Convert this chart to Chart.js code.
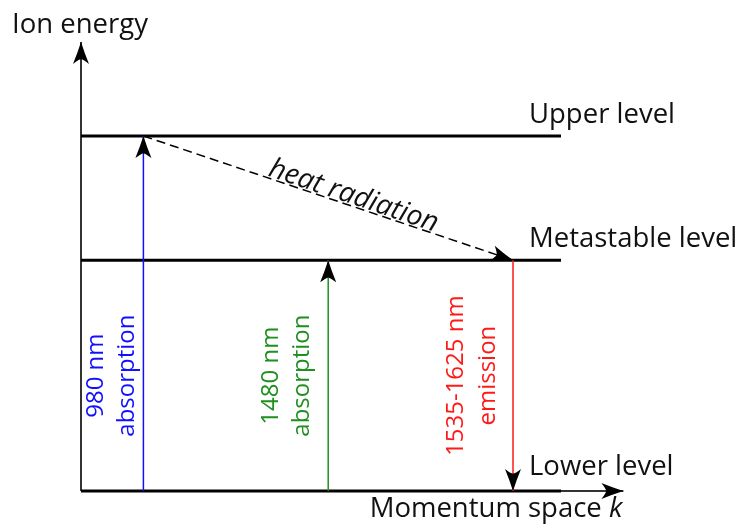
<!DOCTYPE html>
<html lang="en">
<head>
  <meta charset="UTF-8" />
  <title>Erbium energy levels</title>
  <script src="https://cdn.jsdelivr.net/npm/chart.js"></script>
  <style>
    body {
      margin: 0;
      background: #fff;
    }
    .wrap {
      width: 742px;
      height: 527px;
    }
  </style>
</head>
<body>
<div class="wrap"><canvas id="levels"></canvas></div>

<script>
  // energy levels (arbitrary units) and where the level lines stop along k
  const levelNames = ['Lower level', 'Metastable level', 'Upper level'];
  const levelEnergy = [0, 6.5, 10];
  const levelEnd = 10;

  // axis extents
  const kAxisMax = 11.3;
  const energyAxisMax = 12.65;

  // vertical transitions
  const transitionK = [1.3, 5.15, 9.0];
  const transitionFrom = [0, 0, 6.5];
  const transitionTo = [10, 6.5, 0];
  const transitionLabels = [['980 nm', 'absorption'], ['1480 nm', 'absorption'], ['1535-1625 nm', 'emission']];

  // non-radiative decay upper -> metastable
  const heatFrom = { x: 1.3, y: 10 };
  const heatTo = { x: 9.0, y: 6.5 };
  const heatLabel = 'heat radiation';

  // styling
  const transitionColors = ['#1010ff', '#1f8f1f', '#ff1a1a'];
  const labelShift = [[-40, -9], [-50, -19], [-50, -18]];
  const FONT = '"Open Sans", "DejaVu Sans", sans-serif';

  const datasets = [];

  // transitions first (lower index ends up on top)
  transitionK.forEach((k, i) => {
    datasets.push({
      data: [{ x: k, y: transitionFrom[i] }, { x: k, y: transitionTo[i] }],
      borderColor: transitionColors[i],
      borderWidth: 1.5,
      arrow: true
    });
  });

  datasets.push({
    data: [heatFrom, heatTo],
    borderColor: '#000',
    borderWidth: 1.5,
    borderDash: [9, 5],
    arrow: true
  });

  levelEnergy.forEach(e => {
    datasets.push({
      data: [{ x: 0, y: e }, { x: levelEnd, y: e }],
      borderColor: '#000',
      borderWidth: 3
    });
  });

  // the two axes
  datasets.push({
    data: [{ x: 0, y: 0 }, { x: kAxisMax, y: 0 }],
    borderColor: '#333',
    borderWidth: 2,
    arrow: true
  });
  datasets.push({
    data: [{ x: 0, y: 0 }, { x: 0, y: energyAxisMax }],
    borderColor: '#333',
    borderWidth: 2,
    arrow: true
  });

  // black arrow head with a shallow notch, tip at (0,0) pointing +x
  function drawHead(ctx, px, py, ang) {
    const L = 22, W = 16;
    ctx.save();
    ctx.translate(px, py);
    ctx.rotate(ang);
    ctx.beginPath();
    ctx.moveTo(0, 0);
    ctx.quadraticCurveTo(-L * 0.5, -W * 0.22, -L, -W / 2);
    ctx.quadraticCurveTo(-L * 0.8, -W * 0.15, -L * 0.78, 0);
    ctx.quadraticCurveTo(-L * 0.8, W * 0.15, -L, W / 2);
    ctx.quadraticCurveTo(-L * 0.5, W * 0.22, 0, 0);
    ctx.closePath();
    ctx.fillStyle = '#000';
    ctx.fill();
    ctx.restore();
  }

  const diagramPlugin = {
    id: 'diagram',
    afterDatasetsDraw(chart) {
      const ctx = chart.ctx;
      const sx = chart.scales.x, sy = chart.scales.y;

      chart.data.datasets.forEach(ds => {
        if (!ds.arrow) return;
        const a = ds.data[ds.data.length - 2], b = ds.data[ds.data.length - 1];
        const x1 = sx.getPixelForValue(a.x), y1 = sy.getPixelForValue(a.y);
        const x2 = sx.getPixelForValue(b.x), y2 = sy.getPixelForValue(b.y);
        drawHead(ctx, x2, y2, Math.atan2(y2 - y1, x2 - x1));
      });

      ctx.save();
      ctx.font = '27.5px ' + FONT;
      ctx.fillStyle = '#111';
      ctx.textBaseline = 'alphabetic';

      // level names
      ctx.textAlign = 'left';
      levelNames.forEach((name, i) => {
        const px = sx.getPixelForValue(levelEnd) - 32;
        const py = sy.getPixelForValue(levelEnergy[i]) - (i === 0 ? 16 : 13);
        ctx.fillText(name, px, py);
      });

      // axis titles
      const ox = sx.getPixelForValue(0), oy = sy.getPixelForValue(0);
      ctx.fillText('Ion energy', ox - 69, sy.getPixelForValue(energyAxisMax) - 9);
      const kx = sx.getPixelForValue(kAxisMax);
      ctx.textAlign = 'right';
      ctx.font = 'italic 27.5px ' + FONT;
      ctx.fillText('k', kx - 1, oy + 26);
      const kw = ctx.measureText('k').width;
      ctx.font = '27.5px ' + FONT;
      ctx.fillText('Momentum space ', kx - 1 - kw, oy + 26);

      // rotated transition labels
      ctx.font = '24px ' + FONT;
      ctx.textAlign = 'center';
      transitionK.forEach((k, i) => {
        const px = sx.getPixelForValue(k);
        const py = sy.getPixelForValue((levelEnergy[0] + levelEnergy[1]) / 2);
        ctx.save();
        ctx.translate(px, py);
        ctx.rotate(-Math.PI / 2);
        ctx.fillStyle = transitionColors[i];
        transitionLabels[i].forEach((line, j) => {
          ctx.fillText(line, 0, labelShift[i][j]);
        });
        ctx.restore();
      });

      // heat radiation label along the dashed line
      const hx1 = sx.getPixelForValue(heatFrom.x), hy1 = sy.getPixelForValue(heatFrom.y);
      const hx2 = sx.getPixelForValue(heatTo.x), hy2 = sy.getPixelForValue(heatTo.y);
      const t = 0.56;
      ctx.save();
      ctx.translate(hx1 + (hx2 - hx1) * t, hy1 + (hy2 - hy1) * t);
      ctx.rotate(Math.atan2(hy2 - hy1, hx2 - hx1));
      ctx.font = 'italic 28px ' + FONT;
      ctx.fillStyle = '#111';
      ctx.textAlign = 'center';
      ctx.fillText(heatLabel, 0, -2);
      ctx.restore();

      ctx.restore();
    }
  };

  new Chart(document.getElementById('levels'), {
    type: 'scatter',
    data: { datasets: datasets },
    options: {
      responsive: true,
      maintainAspectRatio: false,
      animation: false,
      showLine: true,
      layout: { padding: 0 },
      elements: {
        point: { radius: 0, hoverRadius: 0 },
        line: { tension: 0, borderCapStyle: 'butt' }
      },
      plugins: {
        legend: { display: false },
        tooltip: { enabled: false }
      },
      scales: {
        x: { type: 'linear', display: false, min: -81 / 48, max: 661 / 48 },
        y: { type: 'linear', display: false, min: -36 / 35.5, max: 491 / 35.5 }
      }
    },
    plugins: [diagramPlugin]
  });
</script>
</body>
</html>
